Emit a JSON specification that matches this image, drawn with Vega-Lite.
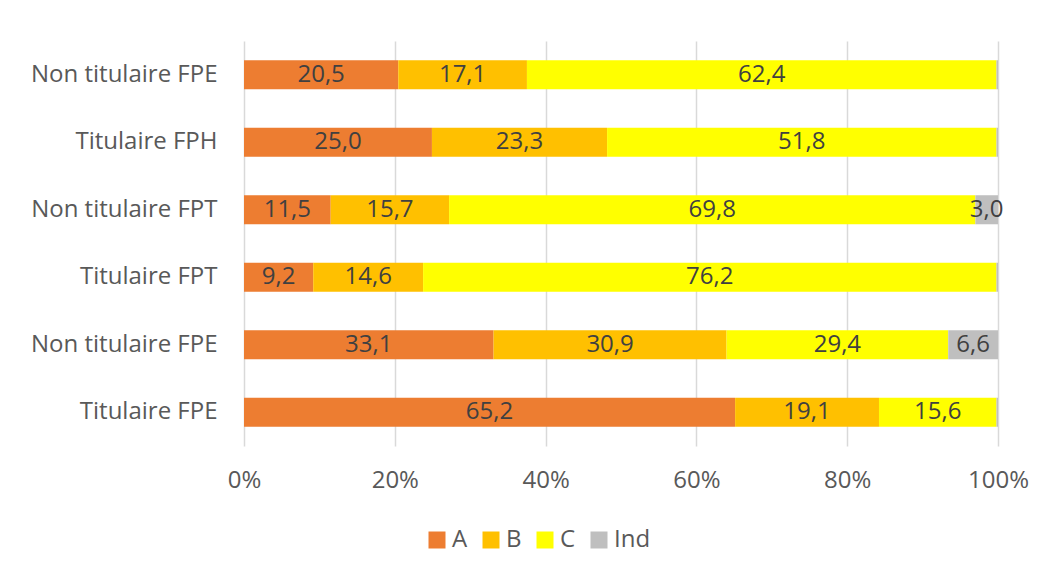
{
  "$schema": "https://vega.github.io/schema/vega-lite/v6.json",
  "width": 754,
  "height": 405,
  "autosize": {"type": "none"},
  "padding": {"left": 244, "top": 41, "right": 48, "bottom": 129},
  "background": "white",
  "config": {
    "font": "Open Sans",
    "view": {"stroke": null},
    "locale": {"number": {"decimal": ",", "thousands": " ", "grouping": [3], "currency": ["", " €"], "percent": "%"}}
  },
  "data": {
    "values": [
      {"row": "1|Non titulaire FPE", "cat": "A", "ord": 1, "v": 20.5},
      {"row": "1|Non titulaire FPE", "cat": "B", "ord": 2, "v": 17.1},
      {"row": "1|Non titulaire FPE", "cat": "C", "ord": 3, "v": 62.4},
      {"row": "1|Non titulaire FPE", "cat": "Ind", "ord": 4, "v": 0.2},
      {"row": "2|Titulaire FPH", "cat": "A", "ord": 1, "v": 25.0},
      {"row": "2|Titulaire FPH", "cat": "B", "ord": 2, "v": 23.3},
      {"row": "2|Titulaire FPH", "cat": "C", "ord": 3, "v": 51.8},
      {"row": "2|Titulaire FPH", "cat": "Ind", "ord": 4, "v": 0.2},
      {"row": "3|Non titulaire FPT", "cat": "A", "ord": 1, "v": 11.5},
      {"row": "3|Non titulaire FPT", "cat": "B", "ord": 2, "v": 15.7},
      {"row": "3|Non titulaire FPT", "cat": "C", "ord": 3, "v": 69.8},
      {"row": "3|Non titulaire FPT", "cat": "Ind", "ord": 4, "v": 3.0},
      {"row": "4|Titulaire FPT", "cat": "A", "ord": 1, "v": 9.2},
      {"row": "4|Titulaire FPT", "cat": "B", "ord": 2, "v": 14.6},
      {"row": "4|Titulaire FPT", "cat": "C", "ord": 3, "v": 76.2},
      {"row": "4|Titulaire FPT", "cat": "Ind", "ord": 4, "v": 0.2},
      {"row": "5|Non titulaire FPE", "cat": "A", "ord": 1, "v": 33.1},
      {"row": "5|Non titulaire FPE", "cat": "B", "ord": 2, "v": 30.9},
      {"row": "5|Non titulaire FPE", "cat": "C", "ord": 3, "v": 29.4},
      {"row": "5|Non titulaire FPE", "cat": "Ind", "ord": 4, "v": 6.6},
      {"row": "6|Titulaire FPE", "cat": "A", "ord": 1, "v": 65.2},
      {"row": "6|Titulaire FPE", "cat": "B", "ord": 2, "v": 19.1},
      {"row": "6|Titulaire FPE", "cat": "C", "ord": 3, "v": 15.6},
      {"row": "6|Titulaire FPE", "cat": "Ind", "ord": 4, "v": 0.2}
    ]
  },
  "transform": [
    {"stack": "v", "groupby": ["row"], "sort": [{"field": "ord", "order": "ascending"}], "offset": "normalize", "as": ["x0", "x1"]},
    {"calculate": "(datum.x0 + datum.x1) / 2", "as": "xm"}
  ],
  "encoding": {
    "y": {
      "field": "row",
      "type": "nominal",
      "sort": "ascending",
      "scale": {"paddingInner": 0.57, "paddingOuter": 0.285},
      "axis": {
        "title": null,
        "labelExpr": "split(datum.value, '|')[1]",
        "ticks": false,
        "domain": false,
        "labelFont": "Open Sans",
        "labelFontSize": 24,
        "labelColor": "#595959",
        "labelPadding": 27,
        "labelLimit": 400
      }
    }
  },
  "layer": [
    {
      "mark": {"type": "bar"},
      "encoding": {
        "x": {
          "field": "x0",
          "type": "quantitative",
          "scale": {"domain": [0, 1]},
          "axis": {
            "title": null,
            "format": "0%",
            "values": [0, 0.2, 0.4, 0.6, 0.8, 1],
            "grid": true,
            "gridColor": "#D9D9D9",
            "gridWidth": 1.5,
            "domain": false,
            "ticks": false,
            "labelFont": "Open Sans",
            "labelFontSize": 24,
            "labelColor": "#595959",
            "labelPadding": 22,
            "labelFlush": false,
            "labelOverlap": false
          }
        },
        "x2": {"field": "x1"},
        "color": {
          "field": "cat",
          "type": "nominal",
          "scale": {"domain": ["A", "B", "C", "Ind"], "range": ["#ED7D31", "#FFC000", "#FFFF00", "#BFBFBF"]},
          "legend": {
            "title": null,
            "orient": "none",
            "legendX": 181,
            "legendY": 487,
            "direction": "horizontal",
            "columns": 4,
            "symbolType": "square",
            "symbolSize": 289,
            "symbolStrokeWidth": 0,
            "labelFont": "Open Sans",
            "labelFontSize": 24,
            "labelColor": "#595959",
            "columnPadding": 11,
            "labelOffset": 3
          }
        }
      }
    },
    {
      "transform": [{"filter": "datum.v >= 1"}],
      "mark": {"type": "text", "font": "Open Sans", "fontSize": 24, "color": "#404040", "align": "center", "baseline": "middle"},
      "encoding": {
        "x": {"field": "xm", "type": "quantitative"},
        "text": {"field": "v", "type": "quantitative", "format": ".1f"}
      }
    }
  ]
}
